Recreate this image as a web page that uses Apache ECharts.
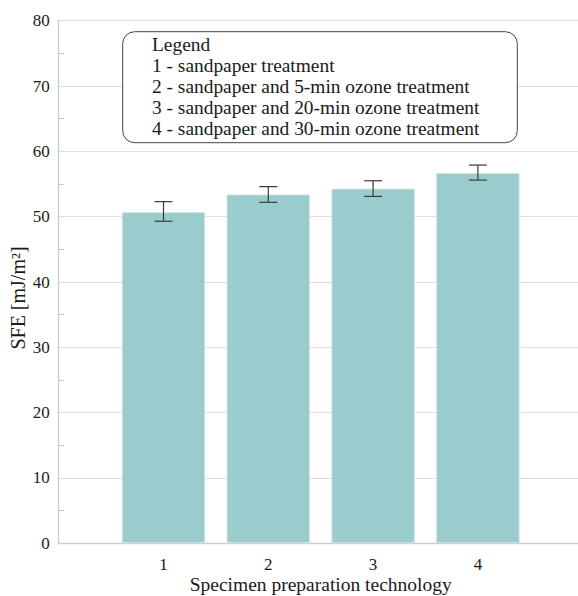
<!DOCTYPE html>
<html>
<head>
<meta charset="utf-8">
<script src="https://cdn.jsdelivr.net/npm/echarts@6/dist/echarts.min.js"></script>
<style>
html,body{margin:0;padding:0;background:#fff;}
#chart{width:578px;height:596px;}
</style>
</head>
<body>
<div id="chart"></div>
<script>
// Data
const categories = [1, 2, 3, 4];
const sfeValues = [50.7, 53.4, 54.3, 56.7];
const errLow = [49.3, 52.2, 53.1, 55.6];
const errHigh = [52.3, 54.6, 55.5, 57.9];
const yTicks = [0, 10, 20, 30, 40, 50, 60, 70, 80];
const legendTitle = 'Legend';
const legendLines = [
  '1 - sandpaper treatment',
  '2 - sandpaper and 5-min ozone treatment',
  '3 - sandpaper and 20-min ozone treatment',
  '4 - sandpaper and 30-min ozone treatment'
];
const xAxisName = 'Specimen preparation technology';
const yAxisName = 'SFE [mJ/m²]';

const FONT = 'Liberation Serif';
const chart = echarts.init(document.getElementById('chart'), null, {renderer: 'svg'});

const barData = categories.map((c, i) => [c, sfeValues[i]]);
const errData = categories.map((c, i) => [c, errLow[i], errHigh[i]]);

const option = {
  animation: false,
  backgroundColor: '#ffffff',
  grid: {left: 58.7, top: 20.7, width: 524, height: 522.6, containLabel: false, outerBoundsMode: 'none'},
  xAxis: {
    type: 'value',
    min: 0, max: 5, interval: 1,
    name: xAxisName,
    nameLocation: 'middle',
    nameGap: 31,
    nameMoveOverlap: false,
    nameTextStyle: {fontFamily: FONT, fontSize: 19.5, color: '#1a1a1a'},
    axisLine: {show: true, lineStyle: {color: '#cccccc', width: 1.3}},
    axisTick: {show: false},
    splitLine: {show: false},
    axisLabel: {
      fontFamily: FONT, fontSize: 17, color: '#1a1a1a', margin: 13,
      formatter: v => (categories.indexOf(v) >= 0 ? String(v) : '')
    }
  },
  yAxis: {
    type: 'value',
    min: yTicks[0], max: yTicks[yTicks.length - 1], interval: 10,
    axisLine: {show: true, lineStyle: {color: '#cccccc', width: 1.3}},
    axisTick: {show: false, inside: true},
    minorTick: {show: true, splitNumber: 2, length: 5, lineStyle: {color: '#c8c8c8', width: 1}},
    splitLine: {show: true, lineStyle: {color: '#dddddd', width: 1}},
    axisLabel: {fontFamily: FONT, fontSize: 17, color: '#1a1a1a', margin: 9}
  },
  graphic: [
    {
      type: 'text',
      x: 18, y: 298,
      rotation: Math.PI / 2,
      style: {
        text: yAxisName, fontFamily: FONT, fontSize: 20, fill: '#1a1a1a',
        align: 'center', verticalAlign: 'middle'
      },
      z: 10
    },
    {
      type: 'rect',
      shape: {x: 122.7, y: 31.7, width: 394.6, height: 111, r: 12},
      style: {fill: '#ffffff', stroke: '#444444', lineWidth: 1},
      z: 10
    },
    {
      type: 'text',
      x: 152, y: 34.5,
      style: {
        text: [legendTitle].concat(legendLines).join('\n'),
        fontFamily: FONT, fontSize: 19.4, lineHeight: 20.8, fill: '#1a1a1a',
        align: 'left', verticalAlign: 'top'
      },
      z: 11
    }
  ],
  series: [
    {
      type: 'bar',
      data: barData,
      barWidth: 83.5,
      itemStyle: {color: '#9acccd', borderColor: '#d6e4e4', borderWidth: 1},
      z: 2
    },
    {
      type: 'custom',
      data: errData,
      z: 5,
      renderItem: function (params, api) {
        const x = api.value(0);
        const lo = api.coord([x, api.value(1)]);
        const hi = api.coord([x, api.value(2)]);
        const hw = 9;
        const st = {stroke: '#3a3a3a', lineWidth: 1.2};
        return {
          type: 'group',
          children: [
            {type: 'line', shape: {x1: lo[0], y1: lo[1], x2: hi[0], y2: hi[1]}, style: st},
            {type: 'line', shape: {x1: lo[0] - hw, y1: lo[1], x2: lo[0] + hw, y2: lo[1]}, style: st},
            {type: 'line', shape: {x1: hi[0] - hw, y1: hi[1], x2: hi[0] + hw, y2: hi[1]}, style: st}
          ]
        };
      }
    }
  ]
};
chart.setOption(option);
</script>
</body>
</html>
